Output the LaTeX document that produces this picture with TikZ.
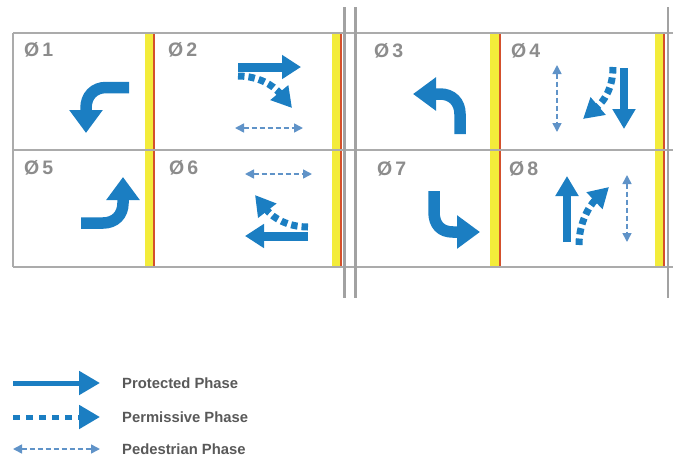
\documentclass[tikz,border=0pt]{standalone}
\usepackage{fontspec}
\setmainfont{Liberation Sans}
\usetikzlibrary{arrows.meta}
\definecolor{arrowblue}{HTML}{1B7EC2}
\definecolor{pedblue}{HTML}{6093C8}
\definecolor{gridgray}{HTML}{ABABAB}
\definecolor{sepgray}{HTML}{A2A2A2}
\definecolor{stripyellow}{HTML}{F3EC3A}
\definecolor{stripred}{HTML}{D4502C}
\definecolor{labelgray}{HTML}{8C8C8C}
\definecolor{legendgray}{HTML}{595959}
\begin{document}
\begin{tikzpicture}[x=1pt,y=-1pt,
  gridline/.style={draw=gridgray, line width=1.6pt},
  sepline/.style={draw=sepgray, line width=2.8pt},
  yellowstrip/.style={fill=stripyellow},
  redline/.style={draw=stripred, line width=2pt},
  phlabel/.style={anchor=west, text=labelgray, font=\fontsize{19.5}{20}\selectfont\bfseries, inner sep=0pt},
  turnarrow/.style={draw=arrowblue, line width=11.5pt, -{Triangle[width=32pt,length=23pt]}},
  thruarrow/.style={draw=arrowblue, line width=9pt, -{Triangle[width=23pt,length=19pt]}},
  thinthru/.style={draw=arrowblue, line width=8pt, -{Triangle[width=22pt,length=20pt]}},
  permarrow/.style={draw=arrowblue, line width=7pt, dash pattern=on 6.5pt off 4pt, -{Triangle[width=22pt,length=20pt]}},
  pedarrow/.style={draw=pedblue, line width=1.6pt, dash pattern=on 5pt off 3pt, {Triangle[width=9pt,length=9pt]}-{Triangle[width=9pt,length=9pt]}},
  legprot/.style={draw=arrowblue, line width=5pt, -{Triangle[width=23pt,length=21pt]}},
  legperm/.style={draw=arrowblue, line width=5pt, dash pattern=on 7pt off 6pt, -{Triangle[width=23pt,length=21pt]}},
  legtext/.style={anchor=west, text=legendgray, font=\fontsize{14.8}{16}\selectfont\bfseries, inner sep=0pt}
]
\useasboundingbox (0,0) rectangle (673,459);

% yellow and red strips
\foreach \xa/\xr in {145/154, 332/341, 490/500, 655/664}{
  \fill[yellowstrip] (\xa,33) rectangle (\xa+8.5,267);
  \draw[redline] (\xr,33) -- (\xr,267);
}

% grid
\draw[gridline] (13,33) -- (673,33);
\draw[gridline] (13,150) -- (673,150);
\draw[gridline] (13,267) -- (673,267);
\draw[gridline] (13,33) -- (13,267);

% separators
\draw[sepline] (344.5,7) -- (344.5,298);
\draw[sepline] (355.5,7) -- (355.5,298);
\draw[sepline] (668,7) -- (668,298);

% phase labels
\node[phlabel] (l1) at (24,50) {Ø\hspace{3pt}1};
\node[phlabel] (l2) at (168,50) {Ø\hspace{3pt}2};
\node[phlabel] (l5) at (24,168) {Ø\hspace{3pt}5};
\node[phlabel] (l6) at (169,168) {Ø\hspace{3pt}6};
\node[phlabel] (l3) at (374,51) {Ø\hspace{3pt}3};
\node[phlabel] (l4) at (511,51) {Ø\hspace{3pt}4};
\node[phlabel] (l7) at (377,169) {Ø\hspace{3pt}7};
\node[phlabel] (l8) at (509,169) {Ø\hspace{3pt}8};

% phase 1: left turn, heading down
\draw[turnarrow] (129,87.5) -- (106,87.5) .. controls (94,87.5) and (86,96) .. (86,108) -- (86,133);
% phase 5: right turn, heading up
\draw[turnarrow] (81,223) -- (103,223) .. controls (115,223) and (123,215) .. (123,203) -- (123,177);
% phase 3: left turn, heading left
\draw[turnarrow] (460,134) -- (460,114) .. controls (460,102) and (452,94) .. (440,94) -- (413,94);
% phase 7: right turn, heading right
\draw[turnarrow] (434,191) -- (434,212) .. controls (434,225) and (441,232) .. (453,232) -- (480,232);

% phase 2
\draw[thruarrow] (238,67) -- (301,67);
\draw[permarrow] (238,76) .. controls (258,76) and (273,85) .. (292,108);
\draw[pedarrow] (235,128) -- (303,128);
% phase 6
\draw[pedarrow] (245,174) -- (312,174);
\draw[permarrow] (308,227) .. controls (288,227) and (273,218) .. (255,195);
\draw[thruarrow] (308,236) -- (245,236);

% phase 4
\draw[pedarrow] (557,65) -- (557,132);
\draw[thinthru] (624,68) -- (624,129);
\draw[permarrow] (613,67) .. controls (613,88) and (604,101) .. (583,119);
% phase 8
\draw[thinthru] (567,242) -- (567,176);
\draw[permarrow] (579,245) .. controls (579,222) and (590,205) .. (609,187);
\draw[pedarrow] (627,175) -- (627,242);

% legend
\coordinate (a1) at (13,383); \coordinate (b1) at (100,383);
\coordinate (a2) at (13,417); \coordinate (b2) at (100,417);
\coordinate (a3) at (13,449); \coordinate (b3) at (100,449);
\draw[legprot] (a1) -- (b1);
\draw[legperm] (a2) -- (b2);
\draw[pedarrow] (a3) -- (b3);
\node[legtext] (t1) at (122,383) {Protected Phase};
\node[legtext] (t2) at (122,417) {Permissive Phase};
\node[legtext] (t3) at (122,449) {Pedestrian Phase};
\end{tikzpicture}
\end{document}
